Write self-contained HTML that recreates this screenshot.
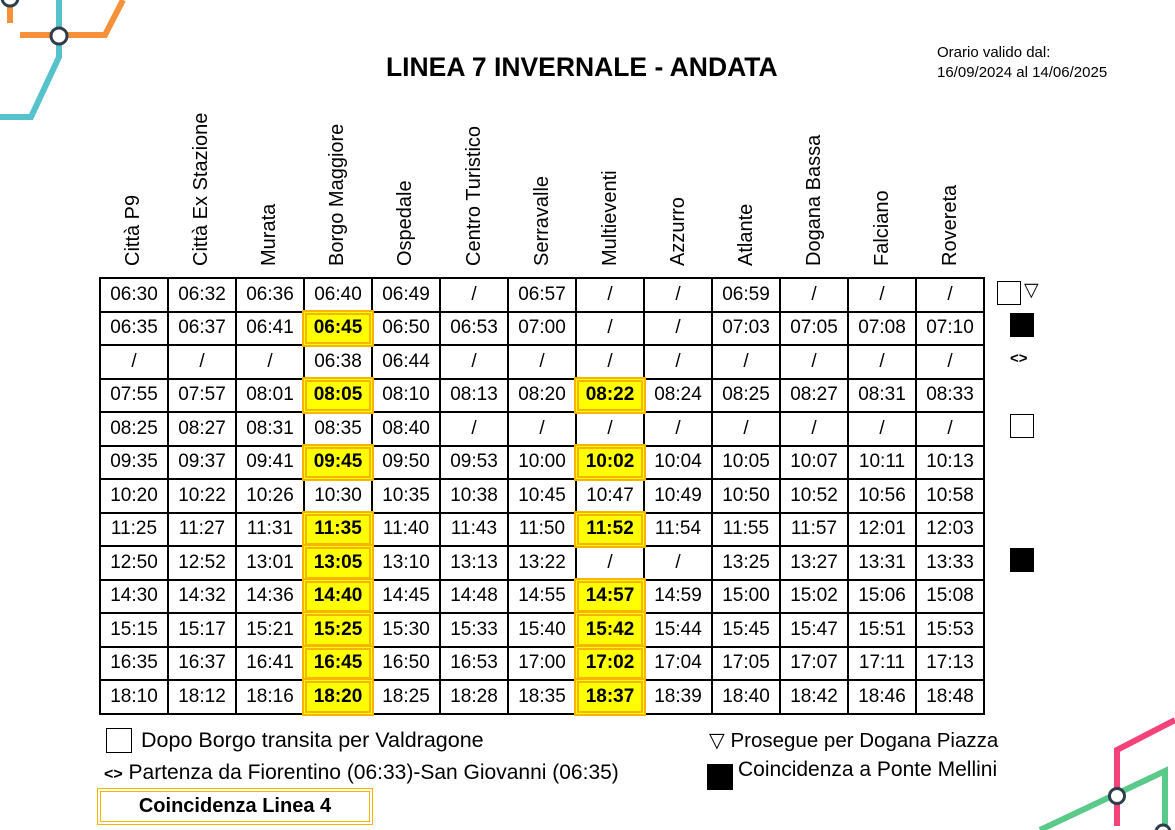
<!DOCTYPE html>
<html><head><meta charset="utf-8"><style>
body{margin:0;width:1175px;height:830px;background:#fff;position:relative;overflow:hidden;font-family:"Liberation Sans",sans-serif;color:#000}
.t{position:absolute;white-space:nowrap}
table{position:absolute;left:99px;top:277px;border-collapse:collapse;table-layout:fixed}
td{width:66px;height:31.5px;border:2px solid #000;text-align:center;font-size:19px;padding:0;position:relative}
td.h b{position:absolute;left:-3px;top:-3px;right:-3px;bottom:-3px;border:5px double #f7b500;background:#ffff00;display:flex;align-items:center;justify-content:center;font-size:19px}
.hd{position:absolute;top:266px;transform-origin:0 0;transform:rotate(-90deg);font-size:20px;white-space:nowrap}
.sq{position:absolute;width:20px;height:20px;border:1.5px solid #000;box-sizing:border-box}
.bk{position:absolute;width:24px;height:24px;background:#000}
</style></head><body>
<svg width="1175" height="830" style="position:absolute;left:0;top:0">
<g fill="none" stroke-width="6">
<polyline points="10,0 10,23" stroke="#f7903a"/>
<polyline points="20,35 105,35 123,0" stroke="#f7903a"/>
<polyline points="59,0 59,57 31,117 0,117" stroke="#55c2cc"/>
<polyline points="1117,826 1117,750 1175,720" stroke="#f4437a"/>
<polyline points="1040,830 1165,771 1165,830" stroke="#5ac98a"/>
</g>
<circle cx="59" cy="36" r="8" fill="#fff" stroke="#2e3e4a" stroke-width="3"/>
<circle cx="10" cy="-2" r="8" fill="#fff" stroke="#2e3e4a" stroke-width="3"/>
<circle cx="1117" cy="796" r="7.5" fill="#fff" stroke="#2e3e4a" stroke-width="3"/>
<circle cx="1163" cy="832" r="7" fill="#fff" stroke="#2e3e4a" stroke-width="3"/>
</svg>
<div class="t" style="left:386px;top:52px;font-size:26.5px;font-weight:bold">LINEA 7 INVERNALE - ANDATA</div>
<div class="t" style="left:937px;top:43px;font-size:15px;line-height:20px">Orario valido dal:<br>16/09/2024 al 14/06/2025</div>
<div class="hd" style="left:122px">Città P9</div>
<div class="hd" style="left:190px">Città Ex Stazione</div>
<div class="hd" style="left:258px">Murata</div>
<div class="hd" style="left:326px">Borgo Maggiore</div>
<div class="hd" style="left:394px">Ospedale</div>
<div class="hd" style="left:463px">Centro Turistico</div>
<div class="hd" style="left:531px">Serravalle</div>
<div class="hd" style="left:599px">Multieventi</div>
<div class="hd" style="left:667px">Azzurro</div>
<div class="hd" style="left:735px">Atlante</div>
<div class="hd" style="left:803px">Dogana Bassa</div>
<div class="hd" style="left:871px">Falciano</div>
<div class="hd" style="left:939px">Rovereta</div>
<table>
<tr><td>06:30</td><td>06:32</td><td>06:36</td><td>06:40</td><td>06:49</td><td>/</td><td>06:57</td><td>/</td><td>/</td><td>06:59</td><td>/</td><td>/</td><td>/</td></tr>
<tr><td>06:35</td><td>06:37</td><td>06:41</td><td class="h"><b>06:45</b></td><td>06:50</td><td>06:53</td><td>07:00</td><td>/</td><td>/</td><td>07:03</td><td>07:05</td><td>07:08</td><td>07:10</td></tr>
<tr><td>/</td><td>/</td><td>/</td><td>06:38</td><td>06:44</td><td>/</td><td>/</td><td>/</td><td>/</td><td>/</td><td>/</td><td>/</td><td>/</td></tr>
<tr><td>07:55</td><td>07:57</td><td>08:01</td><td class="h"><b>08:05</b></td><td>08:10</td><td>08:13</td><td>08:20</td><td class="h"><b>08:22</b></td><td>08:24</td><td>08:25</td><td>08:27</td><td>08:31</td><td>08:33</td></tr>
<tr><td>08:25</td><td>08:27</td><td>08:31</td><td>08:35</td><td>08:40</td><td>/</td><td>/</td><td>/</td><td>/</td><td>/</td><td>/</td><td>/</td><td>/</td></tr>
<tr><td>09:35</td><td>09:37</td><td>09:41</td><td class="h"><b>09:45</b></td><td>09:50</td><td>09:53</td><td>10:00</td><td class="h"><b>10:02</b></td><td>10:04</td><td>10:05</td><td>10:07</td><td>10:11</td><td>10:13</td></tr>
<tr><td>10:20</td><td>10:22</td><td>10:26</td><td>10:30</td><td>10:35</td><td>10:38</td><td>10:45</td><td>10:47</td><td>10:49</td><td>10:50</td><td>10:52</td><td>10:56</td><td>10:58</td></tr>
<tr><td>11:25</td><td>11:27</td><td>11:31</td><td class="h"><b>11:35</b></td><td>11:40</td><td>11:43</td><td>11:50</td><td class="h"><b>11:52</b></td><td>11:54</td><td>11:55</td><td>11:57</td><td>12:01</td><td>12:03</td></tr>
<tr><td>12:50</td><td>12:52</td><td>13:01</td><td class="h"><b>13:05</b></td><td>13:10</td><td>13:13</td><td>13:22</td><td>/</td><td>/</td><td>13:25</td><td>13:27</td><td>13:31</td><td>13:33</td></tr>
<tr><td>14:30</td><td>14:32</td><td>14:36</td><td class="h"><b>14:40</b></td><td>14:45</td><td>14:48</td><td>14:55</td><td class="h"><b>14:57</b></td><td>14:59</td><td>15:00</td><td>15:02</td><td>15:06</td><td>15:08</td></tr>
<tr><td>15:15</td><td>15:17</td><td>15:21</td><td class="h"><b>15:25</b></td><td>15:30</td><td>15:33</td><td>15:40</td><td class="h"><b>15:42</b></td><td>15:44</td><td>15:45</td><td>15:47</td><td>15:51</td><td>15:53</td></tr>
<tr><td>16:35</td><td>16:37</td><td>16:41</td><td class="h"><b>16:45</b></td><td>16:50</td><td>16:53</td><td>17:00</td><td class="h"><b>17:02</b></td><td>17:04</td><td>17:05</td><td>17:07</td><td>17:11</td><td>17:13</td></tr>
<tr><td>18:10</td><td>18:12</td><td>18:16</td><td class="h"><b>18:20</b></td><td>18:25</td><td>18:28</td><td>18:35</td><td class="h"><b>18:37</b></td><td>18:39</td><td>18:40</td><td>18:42</td><td>18:46</td><td>18:48</td></tr>
</table>
<div class="sq" style="left:997px;top:281px;width:24px;height:24px"></div>
<div class="t" style="left:1024px;top:279px;font-size:19px">▽</div>
<div class="bk" style="left:1010px;top:313px"></div>
<div class="t" style="left:1010px;top:350px;font-size:15px;font-weight:bold">&lt;&gt;</div>
<div class="sq" style="left:1010px;top:414px;width:24px;height:24px"></div>
<div class="bk" style="left:1010px;top:548px"></div>
<div class="sq" style="left:106px;top:728px;width:26px;height:25px"></div>
<div class="t" style="left:141px;top:728px;font-size:21.5px">Dopo Borgo transita per Valdragone</div>
<div class="t" style="left:104px;top:761px;font-size:21px"><b style="font-size:16px">&lt;&gt;</b> Partenza da Fiorentino (06:33)-San Giovanni (06:35)</div>
<div style="position:absolute;left:97px;top:788px;width:276px;height:37px;box-sizing:border-box;border:4px double #f7b500;text-align:center;font-weight:bold;font-size:20px;line-height:29px">Coincidenza Linea 4</div>
<div class="t" style="left:709px;top:728px;font-size:20.5px">▽ Prosegue per Dogana Piazza</div>
<div class="bk" style="left:707px;top:764px;width:26px;height:26px"></div>
<div class="t" style="left:738px;top:758px;font-size:21px">Coincidenza a Ponte Mellini</div>
</body></html>
